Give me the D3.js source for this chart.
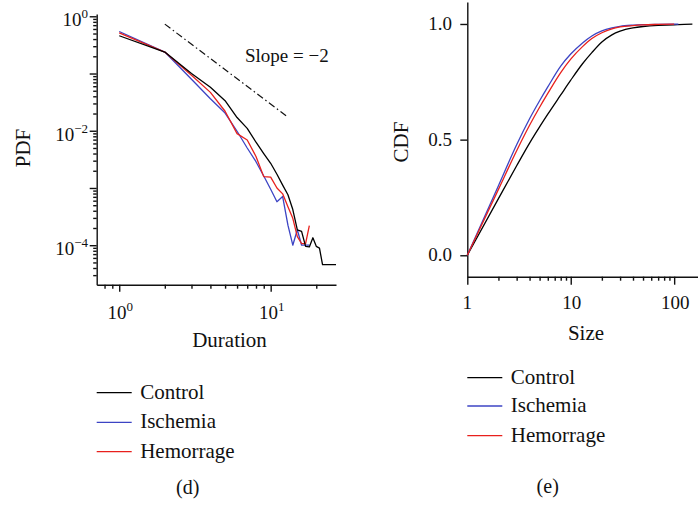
<!DOCTYPE html>
<html>
<head>
<meta charset="utf-8">
<script src="https://cdnjs.cloudflare.com/ajax/libs/d3/7.8.5/d3.min.js"></script>
<style>
  body { margin: 0; background: #fff; }
</style>
</head>
<body>
<div class="container"></div>
<script>
// ---- data ----
var series_names = ["Control", "Ischemia", "Hemorrage"];
var series_colors = ["#000000", "#3c44c4", "#e8201c"];

// panel (d): PDF of durations
var durations = [1, 2, 3, 4, 5, 6, 7, 8, 9, 10, 11, 12, 13, 14, 15, 16, 17, 18, 19, 20, 21, 22, 23, 24, 25, 26, 27];
var pdf_control = [0.457, 0.237, 0.100, 0.0575, 0.0335, 0.0170, 0.0110, 0.0063, 0.0040, 0.0027, 0.00174,
                   0.00112, 0.00076, 0.00042, 0.000186, 0.000174, 0.0000955, 0.0000933, 0.000135,
                   0.0000955, 0.0000891, 0.0000457, 0.0000457, 0.0000457, 0.0000457, 0.0000457, 0.0000457];
var pdf_ischemia = [0.542, 0.237, 0.0794, 0.0363, 0.0204, 0.0098, 0.0050, 0.00288, 0.00162, 0.00095,
                    0.000575, 0.000708, 0.000224, 0.0001, 0.000186, 0.0001, 0.0001, 0.0001];
var pdf_hemorrage = [0.513, 0.237, 0.0933, 0.0468, 0.0219, 0.0089, 0.0069, 0.00355, 0.00158, 0.00155,
                     0.0010, 0.00079, 0.00047, 0.000295, 0.000141, 0.000107, 0.000107, 0.000219];
var slope_x = [2, 13.1];
var slope_c = 2.92;   // y = c * x^-2

// panel (e): CDF of sizes
var sizes = [1, 2, 3, 4, 5, 6, 8, 10, 13, 16, 20, 25, 30, 40, 50, 70, 100, 110, 150];
var cdf_control = [0, 0.245, 0.387, 0.485, 0.555, 0.61, 0.693, 0.757, 0.828, 0.876, 0.922, 0.953, 0.969,
                   0.983, 0.989, 0.994, 0.996, 0.997, 0.999];
var cdf_ischemia = [0, 0.301, 0.478, 0.59, 0.668, 0.728, 0.818, 0.87, 0.918, 0.948, 0.97, 0.983, 0.99,
                    0.995, 0.997, 0.9985, 0.9995, 0.9997];
var cdf_hemorrage = [0, 0.285, 0.452, 0.562, 0.64, 0.70, 0.79, 0.848, 0.902, 0.937, 0.962, 0.979, 0.987,
                     0.993, 0.996, 0.998, 0.9993];

var svg = d3.select("div.container").append("svg")
    .attr("width", 698)
    .attr("height", 507)
    .attr("font-family", "'Liberation Serif', 'DejaVu Serif', serif")
    .attr("fill", "#111");

var pdf_data = [pdf_control, pdf_ischemia, pdf_hemorrage];
var cdf_data = [cdf_control, cdf_ischemia, cdf_hemorrage];

// ---- scales ----
var x_pdf = d3.scaleLog().domain([0.71, 27]).range([96.7, 336]);
var y_pdf = d3.scaleLog().domain([Math.pow(10, -4.69), Math.pow(10, 0.04)]).range([284.7, 14]);
var x_cdf = d3.scaleLog().domain([1, 170]).range([467.3, 698]);
var y_cdf = d3.scaleLinear().domain([-0.0926, 1.095]).range([276.7, 2]);

var minor_log = function (lo, hi) {
  var out = [];
  for (var e = -6; e < 4; e++) {
    for (var k = 2; k < 10; k++) {
      var v = k * Math.pow(10, e);
      if (v >= lo && v <= hi) out.push(v);
    }
  }
  return out;
};

var style_axis = function (g) {
  g.selectAll("path, line").attr("stroke", "#111").attr("stroke-width", 1.4);
  g.selectAll("text").remove();
};

// ---- panel (d) axes ----
svg.append("g")
    .attr("transform", "translate(0,284.7)")
    .call(d3.axisBottom(x_pdf).tickValues([1, 10]).tickSize(7).tickSizeOuter(0).tickFormat(""))
    .call(style_axis);
svg.append("g")
    .attr("transform", "translate(0,284.7)")
    .call(d3.axisBottom(x_pdf).tickValues(minor_log(0.71, 27)).tickSize(4).tickSizeOuter(0).tickFormat(""))
    .call(style_axis)
    .select(".domain").remove();

svg.append("g")
    .attr("transform", "translate(96.7,0)")
    .call(d3.axisLeft(y_pdf).tickValues([1, 1e-1, 1e-2, 1e-3, 1e-4]).tickSize(7).tickSizeOuter(0).tickFormat(""))
    .call(style_axis);
svg.append("g")
    .attr("transform", "translate(96.7,0)")
    .call(d3.axisLeft(y_pdf).tickValues(minor_log(Math.pow(10, -4.69), 1)).tickSize(3.5).tickSizeOuter(0).tickFormat(""))
    .call(style_axis)
    .select(".domain").remove();

// power-of-ten labels
var pow_label = function (x, y, anchor, exp) {
  var t = svg.append("text")
      .attr("x", x)
      .attr("y", y)
      .attr("text-anchor", anchor)
      .attr("font-size", 19);
  t.append("tspan").text("10");
  t.append("tspan").attr("dy", -8).attr("font-size", 13).text(exp);
};
[0, 1].forEach(function (e) {
  pow_label(x_pdf(Math.pow(10, e)) + 1, 319.3, "middle", String(e));
});
[0, -2, -4].forEach(function (e) {
  pow_label(88, y_pdf(Math.pow(10, e)) + 10, "end", e < 0 ? "\u2212" + (-e) : String(e));
});

// ---- panel (d) lines ----
var pdf_line = d3.line()
    .x(function (d, j) { return x_pdf(durations[j]); })
    .y(function (d) { return y_pdf(d); });

[1, 2, 0].forEach(function (i) {
  svg.append("path")
      .datum(pdf_data[i])
      .attr("fill", "none")
      .attr("stroke", series_colors[i])
      .attr("stroke-width", 1.3)
      .attr("stroke-linejoin", "round")
      .attr("d", pdf_line);
});

// slope = -2 reference line
svg.append("line")
    .attr("x1", x_pdf(slope_x[0]))
    .attr("y1", y_pdf(slope_c / (slope_x[0] * slope_x[0])))
    .attr("x2", x_pdf(slope_x[1]))
    .attr("y2", y_pdf(slope_c / (slope_x[1] * slope_x[1])))
    .attr("stroke", "#111")
    .attr("stroke-width", 1.2)
    .style("stroke-dasharray", "7,3,1.5,3");

svg.append("text")
    .attr("x", 245)
    .attr("y", 61.5)
    .attr("font-size", 19)
    .text("Slope = \u22122");

svg.append("text")
    .attr("x", 229.5)
    .attr("y", 347.3)
    .attr("text-anchor", "middle")
    .attr("font-size", 21)
    .text("Duration");

svg.append("text")
    .attr("transform", "translate(30,148) rotate(-90)")
    .attr("text-anchor", "middle")
    .attr("font-size", 21)
    .text("PDF");

// ---- panel (e) axes ----
svg.append("g")
    .attr("transform", "translate(0,276.7)")
    .call(d3.axisBottom(x_cdf).tickValues([1, 10, 100]).tickSize(8).tickSizeOuter(0).tickFormat(""))
    .call(style_axis);
svg.append("g")
    .attr("transform", "translate(0,276.7)")
    .call(d3.axisBottom(x_cdf).tickValues(minor_log(1, 170)).tickSize(4).tickSizeOuter(0).tickFormat(""))
    .call(style_axis)
    .select(".domain").remove();
svg.append("g")
    .attr("transform", "translate(467.3,0)")
    .call(d3.axisLeft(y_cdf).tickValues([0, 0.5, 1]).tickSize(7).tickSizeOuter(0).tickFormat(""))
    .call(style_axis);

[1, 10, 100].forEach(function (v) {
  svg.append("text")
      .attr("x", x_cdf(v) + (v === 1 ? 0 : 1))
      .attr("y", 309.3)
      .attr("text-anchor", "middle")
      .attr("font-size", 19)
      .text(v);
});
[0, 0.5, 1].forEach(function (v) {
  svg.append("text")
      .attr("x", 452)
      .attr("y", y_cdf(v) + 6)
      .attr("text-anchor", "end")
      .attr("font-size", 19)
      .text(d3.format(".1f")(v));
});

// ---- panel (e) lines ----
var cdf_line = d3.line()
    .curve(d3.curveMonotoneX)
    .x(function (d, j) { return x_cdf(sizes[j]); })
    .y(function (d) { return y_cdf(d); });

cdf_data.forEach(function (vals, i) {
  svg.append("path")
      .datum(vals)
      .attr("fill", "none")
      .attr("stroke", series_colors[i])
      .attr("stroke-width", 1.3)
      .attr("d", cdf_line);
});

svg.append("text")
    .attr("x", 586)
    .attr("y", 340)
    .attr("text-anchor", "middle")
    .attr("font-size", 21)
    .text("Size");

svg.append("text")
    .attr("transform", "translate(408,142) rotate(-90)")
    .attr("text-anchor", "middle")
    .attr("font-size", 21)
    .text("CDF");

// ---- legends ----
var legend = function (x0, ys) {
  series_names.forEach(function (name, i) {
    svg.append("line")
        .attr("x1", x0).attr("x2", x0 + 35)
        .attr("y1", ys[i]).attr("y2", ys[i])
        .attr("stroke", series_colors[i])
        .attr("stroke-width", 1.3);
    svg.append("text")
        .attr("x", x0 + 43.5)
        .attr("y", ys[i] + 5.8)
        .attr("font-size", 21)
        .text(name);
  });
};
legend(96.7, [392.7, 422.3, 451.7]);
legend(467.3, [377.7, 406, 435.7]);

svg.append("text")
    .attr("x", 187.7).attr("y", 494)
    .attr("text-anchor", "middle")
    .attr("font-size", 20)
    .text("(d)");
svg.append("text")
    .attr("x", 547.7).attr("y", 493.3)
    .attr("text-anchor", "middle")
    .attr("font-size", 20)
    .text("(e)");
</script>
</body>
</html>
